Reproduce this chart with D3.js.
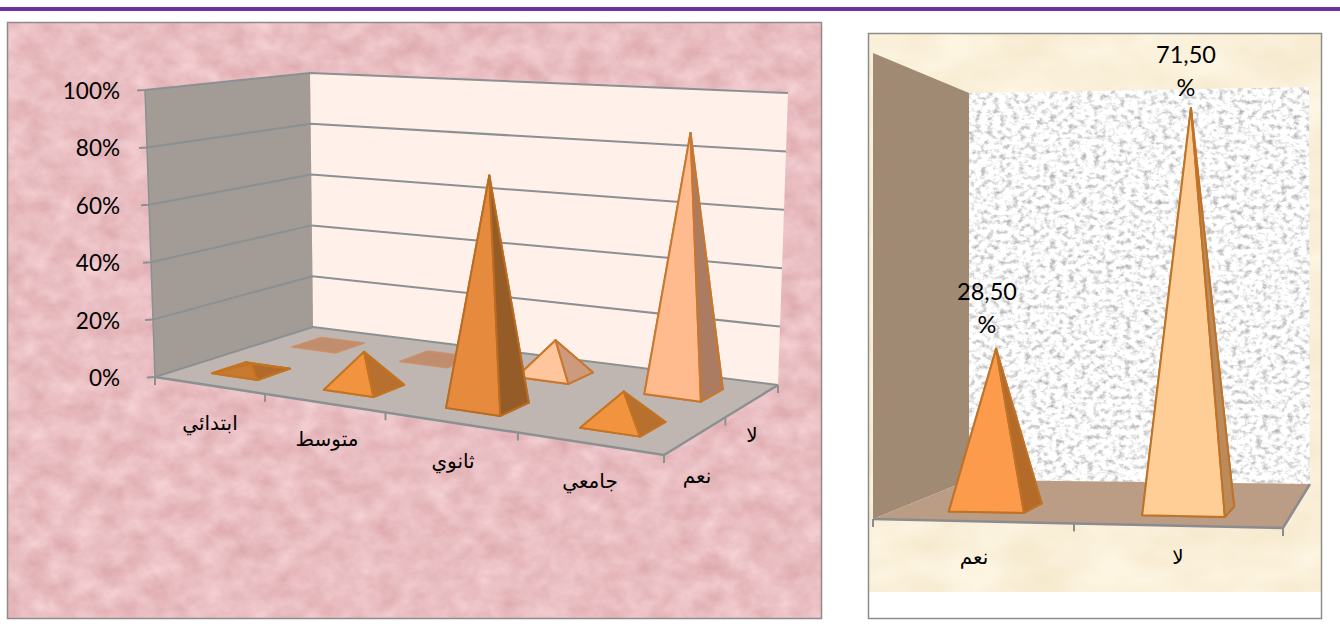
<!DOCTYPE html>
<html><head><meta charset="utf-8">
<script src="https://cdn.jsdelivr.net/npm/d3@7"></script>
<style>html,body{margin:0;padding:0;background:#fff;overflow:hidden}svg{display:block}
text{fill:#000}.lat{font-family:Lato,"Open Sans",sans-serif}.ar{font-family:"Liberation Sans","DejaVu Sans",sans-serif;direction:rtl}</style>
</head><body><svg id="c" width="1340" height="628"></svg>
<script>
// ---------- data ----------
const categories = ["ابتدائي","متوسط","ثانوي","جامعي"];
const rows = ["نعم","لا"];
const yesValues = [2.5, 12, 75, 10.5];
const noValues = [0, 0, 12, 87];
const yTicks = [0,20,40,60,80,100];
const rightCategories = ["نعم","لا"];
const rightValues = [28.5, 71.5];
const rightLabels = ["28,50","71,50"];

// ---------- helpers ----------
function homography(p){
  const [x0,y0]=p[0],[x1,y1]=p[1],[x2,y2]=p[2],[x3,y3]=p[3];
  const dx1=x1-x2,dx2=x3-x2,dy1=y1-y2,dy2=y3-y2,sx=x0-x1+x2-x3,sy=y0-y1+y2-y3;
  const den=dx1*dy2-dx2*dy1,g=(sx*dy2-dx2*sy)/den,h=(dx1*sy-sx*dy1)/den;
  const a=x1-x0+g*x1,b=x3-x0+h*x3,d=y1-y0+g*y1,e=y3-y0+h*y3;
  return (u,v)=>{const w=g*u+h*v+1;return [(a*u+b*v+x0)/w,(d*u+e*v+y0)/w];};
}
function projector(floor,top){
  const F=homography(floor);
  const up=floor.map((p,i)=>[top[i][0]-p[0],top[i][1]-p[1]]);
  return (u,v,w)=>{
    const f=F(u,v),k=[(1-u)*(1-v),u*(1-v),u*v,(1-u)*v];
    return [0,1].map(c=>f[c]+w*d3.sum(up,(q,i)=>q[c]*k[i]));
  };
}
const svg=d3.select("#c"), defs=svg.append("defs");
const line=d3.line(), poly=pts=>line(pts)+"Z";
function noise(id,freq,oct,seed,m){
  const f=defs.append("filter").attr("id",id).attr("x",0).attr("y",0).attr("width","100%").attr("height","100%")
    .attr("color-interpolation-filters","sRGB");
  f.append("feTurbulence").attr("type","fractalNoise").attr("baseFrequency",freq).attr("numOctaves",oct).attr("seed",seed);
  f.append("feColorMatrix").attr("type","matrix").attr("values",
    `${m[0]} 0 0 0 ${m[1]}  ${m[2]} 0 0 0 ${m[3]}  ${m[4]} 0 0 0 ${m[5]}  0 0 0 0 1`);
}
noise("pink","0.04 0.05",4,7,[0.12,0.855,0.20,0.645,0.20,0.66]);
noise("cream","0.015 0.025",3,11,[0.05,0.955,0.08,0.90,0.14,0.78]);
noise("speck","0.16 0.2",4,5,[0.75,0.60,0.75,0.60,0.75,0.60]);

function pyramid(g,P,u0,v0,hu,hv,val,col){
  const b=[P(u0-hu,v0-hv,0),P(u0+hu,v0-hv,0),P(u0+hu,v0+hv,0),P(u0-hu,v0+hv,0)];
  const a=P(u0,v0,val);
  const faces=[
    {pts:b,fill:col.base},
    {pts:[b[3],b[0],a],fill:col.front},
    {pts:[b[2],b[3],a],fill:col.side},
    {pts:[b[0],b[1],a],fill:col.front},
    {pts:[b[1],b[2],a],fill:col.side}];
  const shown = val>0 ? faces : [faces[0]];
  g.selectAll(null).data(shown).join("path").attr("d",d=>poly(d.pts)).attr("fill",d=>d.fill)
    .attr("stroke",col.stroke).attr("stroke-width",val>0?2:1.5).attr("stroke-linejoin","round");
}

// ---------- page ----------
svg.append("rect").attr("x",0).attr("y",7).attr("width",1340).attr("height",4).attr("fill","#7030A0");

// ---------- left chart ----------
{
  const L=svg.append("g");
  L.append("rect").attr("x",7.5).attr("y",22.5).attr("width",814).attr("height",596).attr("filter","url(#pink)");
  L.append("rect").attr("x",7.5).attr("y",22.5).attr("width",814).attr("height",596).attr("fill","none").attr("stroke","#8c8c8c").attr("stroke-width",1.5);
  const floor=[[155,377],[664,455],[778,385],[313,327]];
  const top=[[145,90],[672,122],[788,93],[310,73]];
  const P=projector(floor,top);
  const uS=d3.scaleBand().domain(categories).range([0,1]);
  const vS=d3.scaleBand().domain(rows).range([0,1]);
  const wS=d3.scaleLinear().domain([0,100]).range([0,1]);
  L.append("path").attr("d",poly([P(0,1,0),P(1,1,0),P(1,1,1),P(0,1,1)])).attr("fill","#FFF0E9");
  L.append("path").attr("d",poly([P(0,0,0),P(0,1,0),P(0,1,1),P(0,0,1)])).attr("fill","#A39B96");
  L.append("path").attr("d",poly([P(0,0,0),P(1,0,0),P(1,1,0),P(0,1,0)])).attr("fill","#BFB6B2");
  const axisCol="#8b9092";
  L.selectAll(null).data(yTicks).join("path").attr("fill","none").attr("stroke",axisCol).attr("stroke-width",2)
    .attr("d",t=>{const w=wS(t),a=P(0,0,w);return line([[a[0]-8,a[1]+0.5],a,P(0,1,w),P(1,1,w)]);});
  L.append("path").attr("fill","none").attr("stroke",axisCol).attr("stroke-width",2.5).attr("d",line([P(0,0,0),P(1,0,0),P(1,1,0)]));
  L.append("path").attr("fill","none").attr("stroke",axisCol).attr("stroke-width",1.5).attr("d",line([P(0,0,0),P(0,0,1)]));
  const uTicks=d3.range(categories.length+1).map(i=>i/categories.length);
  L.selectAll(null).data(uTicks).join("path").attr("stroke",axisCol).attr("stroke-width",2)
    .attr("d",u=>{const a=P(u,0,0);return line([a,[a[0],a[1]+8]]);});
  L.selectAll(null).data([0.5,1]).join("path").attr("stroke",axisCol).attr("stroke-width",2)
    .attr("d",v=>{const a=P(1,v,0);return line([a,[a[0],a[1]+8]]);});
  const hu=0.052,hv=0.1;
  const backCol=(i,d)=>d>50?{base:"#A87860",front:"#FFBA8E",side:"#AC7C62",stroke:"#C8782E"}:
     d>0?{base:"#CE9878",front:"#FFC59C",side:"#CE9A7C",stroke:"#C8782E"}:{base:"#C08D6E",front:"#C08D6E",side:"#C08D6E",stroke:"#CC9066"};
  const frontCol=(i,d)=>d>50?{base:"#945A26",front:"#E68B3E",side:"#965C28",stroke:"#B96C22"}:
     d<5?{base:"#B8702E",front:"#C87A30",side:"#B06A2A",stroke:"#C47420"}:
     {base:"#B8702E",front:"#F2933F",side:"#B8702E",stroke:"#C47420"};
  noValues.forEach((d,i)=>pyramid(L.append("g"),P,uS(categories[i])+uS.bandwidth()/2,vS("لا")+vS.bandwidth()/2,hu,hv,wS(d),backCol(i,d)));
  yesValues.forEach((d,i)=>pyramid(L.append("g"),P,uS(categories[i])+uS.bandwidth()/2,vS("نعم")+vS.bandwidth()/2,hu,hv,wS(d),frontCol(i,d)));
  L.selectAll(null).data(yTicks).join("text").attr("class","lat").attr("font-size",22.5).attr("text-anchor","end")
    .attr("x",120).attr("y",t=>P(0,0,wS(t))[1]+9).text(t=>t+"%");
  const catPos=[[210,424],[327,440],[453,462],[590,482]];
  L.selectAll(null).data(categories).join("text").attr("class","ar").attr("font-size",20).attr("text-anchor","middle")
    .attr("x",(d,i)=>catPos[i][0]).attr("y",(d,i)=>catPos[i][1]+6).text(d=>d);
  const rowPos=[[697,477],[752,436]];
  L.selectAll(null).data(rows).join("text").attr("class","ar").attr("font-size",20).attr("text-anchor","middle")
    .attr("x",(d,i)=>rowPos[i][0]).attr("y",(d,i)=>rowPos[i][1]+6).text(d=>d);
}

// ---------- right chart ----------
{
  const R=svg.append("g");
  R.append("rect").attr("x",868.5).attr("y",33.5).attr("width",453).attr("height",585).attr("fill","#fff");
  R.append("rect").attr("x",869).attr("y",34).attr("width",452).attr("height",558).attr("filter","url(#cream)");
  R.append("rect").attr("x",868.5).attr("y",33.5).attr("width",453).attr("height",585).attr("fill","none").attr("stroke","#8c8c8c").attr("stroke-width",1.5);
  const floor=[[873,519],[1283,528],[1310,484],[969,480]];
  const top=[[873,53],[1288,50],[1309,87],[969,93]];
  const P=projector(floor,top);
  const uS=d3.scaleBand().domain(rightCategories).range([0,1]);
  const wS=d3.scaleLinear().domain([0,80]).range([0,1]);
  const walls=[P(0,1,0),P(1,1,0),P(1,1,1),P(0,1,1)];
  const cp=defs.append("clipPath").attr("id","wallclip");
  cp.append("path").attr("d",poly(walls));
  R.append("g").attr("clip-path","url(#wallclip)").append("rect").attr("x",969).attr("y",85).attr("width",342).attr("height",400).attr("filter","url(#speck)");
  R.append("path").attr("d",poly([P(0,0,0),P(0,1,0),P(0,1,1),P(0,0,1)])).attr("fill","#A08A74");
  R.append("path").attr("d",poly([P(0,0,0),P(1,0,0),P(1,1,0),P(0,1,0)])).attr("fill","#BB9C84");
  const axisCol="#8b8b90";
  R.append("path").attr("fill","none").attr("stroke",axisCol).attr("stroke-width",2.5).attr("d",line([P(0,0,0),P(1,0,0),P(1,1,0)]));
  R.selectAll(null).data([0,0.515,1]).join("path").attr("stroke",axisCol).attr("stroke-width",2)
    .attr("d",u=>{const a=P(u,0,0);return line([a,[a[0],a[1]+8]]);});
  const cols=[{base:"#B46A28",front:"#FC9B4C",side:"#B46A28",stroke:"#BE7328"},{base:"#BC8B5C",front:"#FFCD96",side:"#BC8B5C",stroke:"#BE7328"}];
  rightValues.forEach((d,i)=>pyramid(R.append("g"),P,uS(rightCategories[i])+uS.bandwidth()/2,0.3,0.1,0.11,wS(d),cols[i]));
  const catX=[974,1178];
  R.selectAll(null).data(rightCategories).join("text").attr("class","ar").attr("font-size",20).attr("text-anchor","middle")
    .attr("x",(d,i)=>catX[i]).attr("y",564).text(d=>d);
  const lblX=[987,1186],lblY=[300,63];
  R.selectAll(null).data(rightLabels).join("text").attr("class","lat").attr("font-size",23.5).attr("text-anchor","middle")
    .attr("x",(d,i)=>lblX[i]).attr("y",(d,i)=>lblY[i]).text(d=>d);
  R.selectAll(null).data(rightLabels).join("text").attr("class","lat").attr("font-size",23.5).attr("text-anchor","middle")
    .attr("x",(d,i)=>lblX[i]).attr("y",(d,i)=>lblY[i]+33).text("%");
}
</script></body></html>
